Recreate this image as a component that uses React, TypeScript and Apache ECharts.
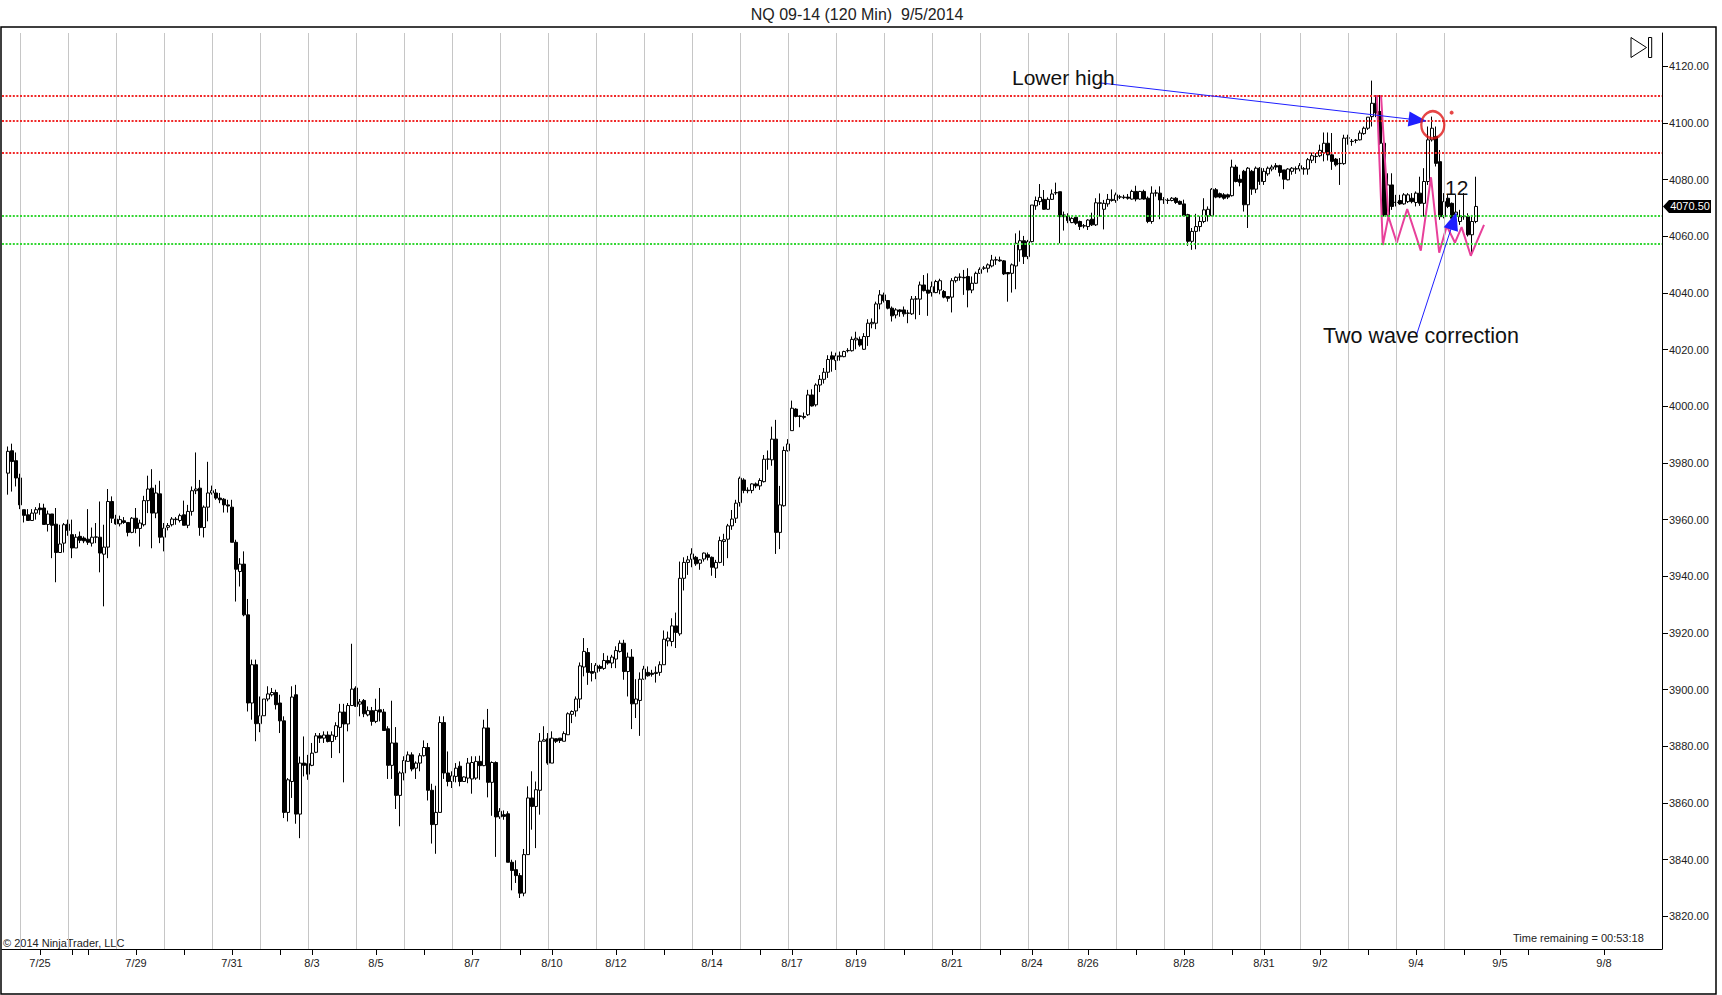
import React, { useEffect, useRef } from "react";
import * as echarts from "echarts";

// ---------- data (open, close, low, high) per 120-min bar ----------
const barsJul24to31: number[][] = [
  [3976.4, 3984.1, 3968.8, 3985.8], [3984.3, 3980.5, 3969.9, 3986.8], [3980.8, 3974.7, 3971.7, 3983.7], [3974.7, 3965.2, 3963.7, 3976.2],
  [3963.5, 3961.5, 3959.0, 3963.5], [3961.7, 3959.7, 3959.7, 3963.7], [3959.7, 3962.3, 3959.7, 3963.7], [3962.3, 3963.5, 3960.0, 3964.4],
  [3964.1, 3963.5, 3961.7, 3965.8], [3964.1, 3958.3, 3958.3, 3965.6], [3958.3, 3962.0, 3955.8, 3963.2], [3962.0, 3958.0, 3946.4, 3962.0],
  [3958.4, 3948.4, 3937.9, 3964.1], [3948.4, 3951.4, 3948.4, 3958.2], [3951.7, 3958.2, 3948.4, 3958.8], [3958.4, 3956.2, 3954.3, 3960.0],
  [3954.7, 3950.0, 3946.4, 3960.0], [3950.0, 3953.8, 3950.0, 3954.9], [3954.1, 3952.7, 3951.7, 3955.8], [3953.5, 3952.5, 3951.7, 3954.1],
  [3953.1, 3952.0, 3951.1, 3963.7], [3951.7, 3953.8, 3950.5, 3957.2], [3953.8, 3953.9, 3951.7, 3958.8], [3953.8, 3948.2, 3941.4, 3966.4],
  [3947.8, 3950.3, 3929.4, 3958.2], [3950.3, 3966.4, 3946.4, 3970.8], [3966.4, 3960.5, 3958.8, 3968.2], [3960.2, 3958.5, 3958.2, 3961.7],
  [3958.5, 3960.0, 3957.6, 3961.4], [3959.6, 3959.0, 3958.5, 3960.9], [3959.0, 3955.5, 3954.1, 3959.0], [3955.5, 3960.5, 3955.2, 3960.9],
  [3960.5, 3956.9, 3955.2, 3964.1], [3956.9, 3958.8, 3950.5, 3960.0], [3958.2, 3966.7, 3957.6, 3968.4], [3966.7, 3970.8, 3962.3, 3975.5],
  [3971.1, 3962.3, 3949.9, 3977.8], [3962.3, 3969.4, 3960.5, 3972.3], [3969.1, 3953.8, 3951.7, 3973.7], [3953.8, 3957.0, 3948.8, 3958.8],
  [3957.3, 3957.9, 3956.2, 3958.8], [3958.2, 3960.2, 3957.6, 3960.9], [3960.0, 3960.2, 3958.2, 3960.9], [3959.7, 3961.4, 3959.0, 3962.1],
  [3961.7, 3958.0, 3958.0, 3966.7], [3958.0, 3962.9, 3957.0, 3965.2], [3962.9, 3970.2, 3961.4, 3971.7], [3970.2, 3970.8, 3969.0, 3983.7],
  [3971.1, 3957.2, 3954.3, 3974.0], [3957.2, 3964.4, 3953.7, 3965.0], [3964.4, 3969.4, 3959.4, 3980.4], [3969.4, 3970.2, 3968.8, 3972.0],
  [3969.4, 3967.6, 3967.0, 3970.8], [3967.6, 3967.0, 3965.8, 3969.4], [3967.2, 3965.2, 3962.5, 3967.6], [3965.2, 3964.8, 3962.5, 3967.0],
  [3964.4, 3952.0, 3952.0, 3967.0], [3952.0, 3942.5, 3931.1, 3952.9], [3941.7, 3944.3, 3936.4, 3946.4], [3944.3, 3926.4, 3925.9, 3948.8],
  [3926.4, 3895.3, 3892.3, 3932.0], [3895.3, 3908.8, 3889.4, 3910.6], [3908.8, 3888.0, 3881.8, 3910.6], [3888.0, 3890.8, 3885.0, 3897.6],
  [3890.8, 3896.7, 3890.8, 3896.7], [3896.7, 3898.5, 3895.9, 3901.2], [3898.2, 3899.0, 3897.6, 3900.6], [3899.0, 3894.7, 3893.0, 3900.0],
  [3895.3, 3889.0, 3884.7, 3898.2], [3889.0, 3856.7, 3854.7, 3890.6], [3856.7, 3868.2, 3853.5, 3868.8],
];
const barsAug1to8: number[][] = [
  [3867.6, 3897.4, 3861.8, 3901.2], [3898.2, 3856.1, 3852.7, 3901.7], [3856.1, 3874.1, 3847.6, 3876.4], [3874.1, 3873.3, 3869.4, 3883.5],
  [3873.9, 3870.2, 3868.2, 3877.0], [3873.3, 3877.6, 3873.0, 3881.2], [3877.9, 3883.7, 3877.6, 3884.7], [3883.7, 3882.9, 3881.2, 3884.7],
  [3882.9, 3884.0, 3881.2, 3885.3], [3884.0, 3881.7, 3881.4, 3885.3], [3881.7, 3884.0, 3875.9, 3885.3], [3883.5, 3887.3, 3882.3, 3888.5],
  [3886.7, 3892.1, 3877.6, 3895.0], [3892.1, 3887.9, 3867.3, 3895.0], [3887.9, 3894.4, 3885.3, 3895.3], [3894.4, 3900.2, 3894.4, 3916.2],
  [3900.6, 3894.1, 3893.9, 3901.2], [3894.9, 3895.7, 3890.6, 3896.7], [3896.2, 3891.5, 3890.3, 3896.7], [3891.1, 3892.6, 3890.6, 3894.1],
  [3892.6, 3888.8, 3887.3, 3893.9], [3888.8, 3892.7, 3888.2, 3896.8], [3892.9, 3892.1, 3888.8, 3900.6], [3892.1, 3885.6, 3885.6, 3893.2],
  [3886.2, 3873.3, 3868.5, 3887.1], [3873.3, 3881.2, 3868.5, 3896.1], [3881.2, 3862.7, 3857.9, 3886.8], [3862.7, 3870.6, 3851.8, 3871.2],
  [3870.6, 3875.0, 3868.0, 3876.5], [3874.7, 3877.0, 3874.7, 3878.2], [3877.0, 3872.0, 3871.2, 3877.9], [3872.3, 3874.1, 3868.5, 3874.7],
  [3874.1, 3876.7, 3871.2, 3877.6], [3876.7, 3879.6, 3876.4, 3882.1], [3879.6, 3864.5, 3860.9, 3881.2], [3864.5, 3852.4, 3845.7, 3866.8],
  [3852.4, 3856.7, 3842.1, 3866.1], [3856.7, 3888.4, 3856.7, 3890.6], [3888.4, 3870.6, 3868.5, 3890.6], [3870.6, 3867.6, 3865.9, 3878.2],
  [3867.6, 3869.6, 3865.3, 3871.2], [3869.4, 3872.3, 3867.3, 3874.1], [3873.0, 3867.6, 3865.9, 3874.7], [3867.6, 3869.2, 3867.6, 3869.4],
  [3868.8, 3874.1, 3867.0, 3875.9], [3868.5, 3874.3, 3863.3, 3876.5], [3868.8, 3874.7, 3868.2, 3876.5], [3874.7, 3873.2, 3868.2, 3876.7],
  [3873.2, 3886.5, 3873.0, 3889.4], [3886.5, 3867.3, 3862.0, 3893.2], [3867.3, 3874.3, 3855.5, 3874.7], [3874.3, 3855.1, 3841.0, 3874.7],
  [3855.1, 3857.1, 3854.4, 3858.2], [3855.9, 3855.3, 3854.1, 3857.4], [3856.2, 3839.1, 3839.1, 3857.1], [3839.1, 3836.2, 3829.2, 3840.0],
  [3836.5, 3834.4, 3831.8, 3839.8], [3834.4, 3828.2, 3826.5, 3835.3], [3828.2, 3841.8, 3827.1, 3843.8], [3841.8, 3861.8, 3841.8, 3865.9],
  [3861.8, 3858.8, 3850.6, 3871.2], [3858.8, 3864.7, 3844.1, 3867.6], [3864.5, 3881.8, 3855.9, 3884.7], [3881.8, 3882.3, 3881.8, 3887.1],
  [3882.7, 3874.1, 3873.5, 3884.7], [3874.1, 3882.9, 3874.1, 3885.3], [3882.7, 3881.8, 3881.2, 3882.7], [3882.9, 3882.1, 3881.2, 3882.9],
  [3881.8, 3884.5, 3881.8, 3885.3], [3884.1, 3891.5, 3884.1, 3892.0],
];
const barsAug11to19: number[][] = [
  [3891.3, 3892.3, 3888.2, 3892.7], [3892.5, 3896.7, 3890.5, 3897.6], [3896.7, 3908.4, 3893.5, 3909.6], [3908.0, 3913.5, 3904.7, 3918.2],
  [3913.1, 3906.1, 3901.7, 3914.7], [3906.4, 3905.8, 3902.9, 3909.4], [3906.1, 3908.6, 3903.7, 3909.4], [3908.2, 3907.5, 3906.4, 3908.8],
  [3907.5, 3910.3, 3907.0, 3912.9], [3910.3, 3909.4, 3908.8, 3912.0], [3909.4, 3911.5, 3907.6, 3912.3], [3910.8, 3913.8, 3907.6, 3915.3],
  [3913.5, 3916.4, 3913.1, 3917.4], [3916.4, 3906.4, 3903.5, 3917.6], [3906.4, 3911.5, 3897.6, 3913.1], [3911.5, 3895.0, 3886.1, 3914.3],
  [3895.0, 3896.7, 3890.0, 3903.7], [3896.2, 3903.7, 3883.7, 3906.1], [3903.7, 3907.3, 3903.5, 3908.4], [3906.1, 3904.9, 3904.6, 3908.2],
  [3905.8, 3905.4, 3904.6, 3907.0], [3905.7, 3906.1, 3902.5, 3908.2], [3906.1, 3908.8, 3904.9, 3910.0], [3908.8, 3917.8, 3908.8, 3920.9],
  [3917.2, 3918.2, 3915.3, 3920.5], [3917.0, 3922.5, 3915.3, 3925.2], [3922.5, 3920.2, 3914.7, 3927.2], [3919.7, 3939.3, 3919.0, 3945.2],
  [3939.3, 3944.9, 3935.0, 3946.7], [3944.9, 3945.8, 3940.5, 3947.2], [3946.0, 3947.9, 3943.2, 3949.9], [3946.7, 3944.4, 3943.7, 3947.2],
  [3944.6, 3945.8, 3942.3, 3946.0], [3946.1, 3948.2, 3945.2, 3948.4], [3947.6, 3946.7, 3945.6, 3948.4], [3946.7, 3943.2, 3940.2, 3947.0],
  [3942.9, 3944.9, 3939.4, 3945.8], [3944.9, 3952.6, 3944.6, 3954.0], [3952.3, 3952.9, 3943.7, 3955.0], [3953.1, 3957.8, 3946.4, 3958.5],
  [3957.8, 3960.2, 3956.4, 3963.4], [3960.5, 3965.8, 3958.8, 3967.0], [3966.0, 3974.6, 3964.6, 3975.2], [3974.0, 3970.3, 3969.3, 3974.6],
  [3970.4, 3970.2, 3969.3, 3971.4], [3970.3, 3972.6, 3969.3, 3972.8], [3972.6, 3971.9, 3971.1, 3973.1], [3971.9, 3973.8, 3970.5, 3974.6],
  [3973.4, 3981.3, 3973.1, 3982.8], [3981.3, 3981.4, 3977.6, 3984.4], [3981.1, 3988.4, 3979.0, 3992.8], [3988.4, 3955.5, 3947.9, 3995.2],
  [3955.5, 3965.2, 3949.6, 3971.9], [3964.9, 3984.4, 3964.6, 3985.8], [3984.3, 3986.7, 3984.0, 3988.4], [3991.4, 3999.3, 3991.4, 4002.0],
  [3999.0, 3996.4, 3996.1, 3999.3], [3996.6, 3996.4, 3992.6, 3996.8], [3996.4, 3996.1, 3995.4, 3997.8], [3997.0, 4004.0, 3996.6, 4005.8],
  [4004.0, 4000.1, 3999.9, 4006.0], [4000.5, 4007.5, 3999.9, 4008.1], [4007.5, 4009.5, 4005.0, 4011.0], [4009.5, 4012.0, 4008.0, 4013.5],
  [4012.0, 4016.5, 4010.0, 4018.0],
];
const barsAug20to28: number[][] = [
  [4017.8, 4016.6, 4012.2, 4019.3], [4016.1, 4017.8, 4012.8, 4018.9], [4017.5, 4017.8, 4016.1, 4019.3], [4017.5, 4019.3, 4017.3, 4019.6],
  [4019.6, 4019.7, 4019.0, 4020.5], [4019.6, 4023.6, 4019.3, 4024.6], [4023.4, 4024.0, 4020.1, 4026.3], [4023.6, 4021.6, 4021.0, 4024.6],
  [4020.1, 4024.6, 4019.9, 4025.8], [4024.6, 4029.3, 4021.3, 4030.7], [4029.1, 4029.6, 4027.5, 4031.0], [4029.3, 4036.1, 4027.2, 4036.9],
  [4036.1, 4039.3, 4034.2, 4041.0], [4039.3, 4037.3, 4036.6, 4040.1], [4037.3, 4034.6, 4034.2, 4037.5], [4034.6, 4031.9, 4029.9, 4035.2],
  [4032.2, 4034.0, 4031.0, 4034.6], [4034.0, 4033.4, 4031.6, 4034.2], [4034.0, 4032.6, 4031.6, 4035.2], [4032.8, 4032.9, 4029.3, 4034.0],
  [4032.6, 4037.8, 4032.2, 4038.9], [4037.8, 4037.9, 4030.7, 4038.9], [4037.8, 4042.8, 4032.2, 4044.0], [4042.8, 4040.8, 4040.5, 4046.3],
  [4041.0, 4039.9, 4031.9, 4046.9], [4040.1, 4042.2, 4038.7, 4044.0], [4040.1, 4044.0, 4039.9, 4044.6], [4041.0, 4044.3, 4039.5, 4045.0],
  [4040.5, 4038.5, 4038.1, 4041.0], [4038.7, 4038.1, 4036.9, 4038.9], [4038.5, 4044.3, 4033.1, 4045.2], [4044.3, 4045.5, 4043.6, 4045.8],
  [4045.5, 4045.6, 4044.3, 4046.9], [4045.5, 4045.3, 4039.3, 4048.1], [4045.8, 4041.0, 4034.9, 4048.7], [4041.0, 4043.4, 4039.9, 4045.8],
  [4043.4, 4046.9, 4043.2, 4047.5], [4046.9, 4048.3, 4046.7, 4049.0], [4048.7, 4048.8, 4048.1, 4049.5], [4048.7, 4049.9, 4047.2, 4050.4],
  [4049.5, 4051.6, 4049.0, 4053.4], [4051.6, 4051.7, 4049.9, 4052.8], [4051.6, 4051.3, 4051.0, 4052.8], [4051.3, 4046.7, 4046.3, 4051.6],
  [4047.2, 4046.7, 4036.9, 4047.2], [4046.9, 4049.9, 4040.1, 4050.4], [4049.5, 4057.5, 4041.3, 4061.0], [4055.2, 4058.4, 4051.0, 4062.0],
  [4058.4, 4052.8, 4050.2, 4060.1], [4052.8, 4058.1, 4051.9, 4058.7], [4058.1, 4071.0, 4057.8, 4071.0], [4070.7, 4072.6, 4069.3, 4074.0],
  [4072.2, 4073.7, 4071.0, 4078.4], [4073.0, 4069.5, 4069.3, 4076.3], [4069.5, 4073.0, 4069.3, 4073.7], [4073.0, 4074.9, 4072.8, 4076.5],
  [4075.3, 4075.4, 4074.6, 4078.9], [4075.7, 4066.9, 4057.5, 4075.7], [4067.5, 4066.9, 4062.0, 4068.7], [4067.1, 4065.5, 4064.6, 4068.1],
  [4064.8, 4066.3, 4064.6, 4066.7], [4066.7, 4064.6, 4064.0, 4067.5], [4065.2, 4063.4, 4062.2, 4065.5], [4063.6, 4063.7, 4062.8, 4064.3],
  [4063.4, 4065.7, 4062.2, 4066.0], [4066.0, 4064.0, 4063.6, 4068.3], [4064.0, 4071.8, 4063.6, 4073.4], [4071.6, 4071.8, 4066.9, 4075.1],
  [4069.5, 4071.6, 4062.4, 4072.8], [4071.4, 4073.0, 4070.4, 4074.9], [4072.6, 4073.0, 4072.2, 4076.5], [4072.6, 4074.6, 4071.8, 4075.4],
];
const barsAug29toSep5: number[][] = [
  [4073.8, 4073.9, 4073.1, 4074.6], [4073.6, 4073.8, 4073.1, 4074.6], [4073.8, 4073.4, 4072.9, 4074.9], [4073.1, 4075.8, 4072.9, 4076.4],
  [4075.8, 4073.1, 4072.3, 4077.8], [4073.1, 4075.8, 4072.9, 4076.0], [4075.8, 4073.1, 4072.9, 4076.4], [4073.4, 4065.2, 4064.6, 4074.0],
  [4065.2, 4075.2, 4064.4, 4077.6], [4075.2, 4075.3, 4074.0, 4076.4], [4075.2, 4072.8, 4066.0, 4077.6], [4072.8, 4072.9, 4071.4, 4073.8],
  [4072.6, 4072.7, 4071.4, 4073.4], [4072.6, 4073.4, 4072.3, 4073.8], [4073.4, 4071.9, 4071.4, 4073.8], [4072.3, 4071.3, 4071.1, 4072.6],
  [4071.4, 4067.2, 4067.2, 4072.9], [4067.6, 4058.2, 4056.6, 4067.9], [4058.2, 4061.7, 4055.2, 4062.9], [4061.7, 4063.4, 4055.4, 4067.9],
  [4063.4, 4065.2, 4061.7, 4067.0], [4065.2, 4069.3, 4064.6, 4073.4], [4067.2, 4069.5, 4065.2, 4070.5], [4067.2, 4076.6, 4067.2, 4077.0],
  [4076.4, 4073.8, 4073.4, 4077.0], [4075.0, 4073.8, 4073.4, 4075.4], [4074.6, 4073.4, 4072.9, 4075.2], [4074.6, 4073.8, 4073.1, 4075.0],
  [4074.3, 4084.4, 4074.0, 4087.0], [4084.4, 4079.3, 4079.0, 4085.2], [4080.1, 4079.0, 4077.6, 4081.7], [4082.9, 4071.1, 4068.7, 4083.4],
  [4071.1, 4084.0, 4062.9, 4084.4], [4082.9, 4076.6, 4074.6, 4083.4], [4076.6, 4084.0, 4075.2, 4084.6], [4084.0, 4079.3, 4078.1, 4084.4],
  [4079.3, 4082.9, 4078.1, 4084.0], [4082.0, 4084.0, 4081.3, 4084.6], [4083.7, 4084.4, 4082.9, 4085.2], [4084.9, 4084.4, 4083.4, 4085.8],
  [4084.9, 4082.5, 4081.1, 4085.2], [4083.4, 4080.1, 4076.6, 4083.4], [4079.9, 4083.7, 4079.7, 4084.0], [4082.9, 4084.0, 4081.7, 4084.4],
  [4083.8, 4083.7, 4082.0, 4084.6], [4083.7, 4084.9, 4082.9, 4085.8], [4083.7, 4083.8, 4081.7, 4084.4], [4083.7, 4087.0, 4081.7, 4087.6],
  [4086.8, 4088.4, 4085.8, 4089.5], [4088.1, 4088.2, 4085.8, 4089.3], [4088.4, 4090.3, 4087.9, 4092.3], [4089.5, 4092.8, 4086.4, 4096.6],
  [4092.8, 4088.7, 4086.7, 4096.6], [4088.7, 4086.4, 4083.4, 4096.4], [4087.2, 4085.2, 4084.6, 4087.6], [4085.6, 4085.7, 4078.1, 4087.6],
  [4085.6, 4094.6, 4085.2, 4095.8], [4094.6, 4094.7, 4092.3, 4095.8], [4093.5, 4093.4, 4091.9, 4094.3], [4093.8, 4093.9, 4092.8, 4094.3],
  [4094.0, 4096.4, 4093.8, 4097.3], [4096.2, 4098.1, 4095.8, 4098.7], [4098.1, 4102.0, 4097.5, 4102.0], [4102.2, 4106.9, 4098.7, 4114.9],
  [4106.9, 4103.5, 4102.0, 4109.8], [4104.0, 4092.8, 4092.2, 4109.8], [4092.8, 4067.5, 4066.9, 4096.9], [4067.5, 4078.1, 4066.9, 4082.2],
  [4078.1, 4070.5, 4069.3, 4082.2], [4072.0, 4071.9, 4070.5, 4074.6], [4072.6, 4071.4, 4071.1, 4074.6], [4071.4, 4074.6, 4071.1, 4075.2],
  [4072.2, 4074.6, 4071.7, 4075.2], [4073.4, 4072.2, 4071.6, 4075.2], [4071.9, 4075.2, 4070.5, 4075.8], [4075.2, 4071.6, 4070.7, 4081.0],
  [4071.6, 4079.3, 4066.9, 4084.0], [4079.3, 4094.0, 4078.1, 4098.7], [4094.0, 4098.1, 4093.4, 4102.2], [4095.2, 4085.7, 4084.6, 4098.7],
  [4086.3, 4066.9, 4065.8, 4090.4], [4066.9, 4072.2, 4066.3, 4075.2], [4073.4, 4070.5, 4069.9, 4074.6], [4071.6, 4066.3, 4066.0, 4071.9],
  [4067.5, 4068.5, 4063.4, 4074.6], [4065.2, 4066.9, 4064.0, 4069.3], [4067.0, 4066.9, 4065.8, 4075.2], [4066.9, 4060.5, 4059.9, 4068.1],
  [4060.5, 4065.2, 4053.4, 4067.5], [4065.2, 4070.5, 4064.6, 4081.0],
];

// axis / time slots
const SLOT_COUNT = 415;
const FIRST_BAR_SLOT = 1;
const dateLabels = ["7/25", "7/29", "7/31", "8/3", "8/5", "8/7", "8/10", "8/12", "8/14", "8/17", "8/19", "8/21", "8/24", "8/26", "8/28", "8/31", "9/2", "9/4", "9/5", "9/8"];
const dateLabelSlots = [9, 33, 57, 77, 93, 117, 137, 153, 177, 197, 213, 237, 257, 271, 295, 315, 329, 353, 374, 400];
const plainTickSlots = [17, 21, 45, 69, 105, 129, 165, 189, 225, 249, 283, 307, 341, 365, 381];
const gridLineSlots = [4, 16, 28, 40, 52, 64, 76, 88, 100, 112, 124, 136, 148, 160, 172, 184, 196, 208, 220, 232, 244, 256, 266, 278, 290, 302, 314, 324, 336, 348, 360];
const priceTicks = [3820, 3840, 3860, 3880, 3900, 3920, 3940, 3960, 3980, 4000, 4020, 4040, 4060, 4080, 4100, 4120];
const PRICE_MIN = 3808.5;
const PRICE_MAX = 4131.7;
const lastPrice = 4070.5;

// drawn levels & annotations (slot, price)
const redLevels = [4109.5, 4100.7, 4089.3];
const greenLevels = [4067.2, 4057.3];
const zigzagMain = [
  [343.2, 4109.8], [344.7, 4056.9], [346.1, 4066.9], [348.2, 4057.7], [350.8, 4069.6], [354.2, 4054.9], [356.75, 4080.8],
  [358.8, 4054.2], [360.7, 4063.6], [362.75, 4057.7], [364.4, 4063.2], [366.7, 4053.1], [370.0, 4064.0],
];
const zigzagExtra = [[344.25, 4109.8], [346.1, 4066.9]];
const arrowLowerHigh = [[274.0, 4114.1], [353.4, 4101.0]];
const arrowTwoWave = [[353.2, 4025.5], [362.4, 4065.4]];
const circleMark = [357.2, 4099.3];
const dotMark = [361.9, 4103.6];

const FONT = '"Liberation Sans", Arial, Helvetica, sans-serif';

export default function App() {
  const ref = useRef<HTMLDivElement>(null);

  useEffect(() => {
    document.body.style.margin = "0";
    const el = ref.current;
    if (!el) return;
    const chart = echarts.init(el, null, { renderer: "svg" });

    const allBars = [...barsJul24to31, ...barsAug1to8, ...barsAug11to19, ...barsAug20to28, ...barsAug29toSep5];
    const slots = Array.from({ length: SLOT_COUNT }, (_, i) => String(i));
    const labelMap = new Map<number, string>();
    dateLabelSlots.forEach((s, k) => labelMap.set(s, dateLabels[k]));
    const tickSet = new Set<number>([...dateLabelSlots, ...plainTickSlots]);
    const candleData = allBars.map((b, i) => [i + FIRST_BAR_SLOT, b[0], b[1], b[2], b[3]]);

    const baseGraphics: any[] = [
      { id: "frame", type: "rect", shape: { x: 1, y: 27, width: 1715, height: 967 }, style: { fill: "none", stroke: "#000", lineWidth: 1.5 }, silent: true },
      { id: "title", type: "text", x: 857, y: 14, style: { text: "NQ 09-14 (120 Min)  9/5/2014", font: `16px ${FONT}`, fill: "#222", align: "center", verticalAlign: "middle" } },
      { id: "copy", type: "text", x: 3, y: 943, style: { text: "© 2014 NinjaTrader, LLC", font: `11px ${FONT}`, fill: "#222", align: "left", verticalAlign: "middle" } },
      { id: "timerem", type: "text", x: 1513, y: 938, style: { text: "Time remaining = 00:53:18", font: `11px ${FONT}`, fill: "#222", align: "left", verticalAlign: "middle" } },
      { id: "lowerhigh", type: "text", x: 1012, y: 77, z: 10, style: { text: "Lower high", font: `21px ${FONT}`, fill: "#111", align: "left", verticalAlign: "middle" } },
      { id: "twowave", type: "text", x: 1323, y: 336, z: 10, style: { text: "Two wave correction", font: `21.5px ${FONT}`, fill: "#111", align: "left", verticalAlign: "middle" } },
      { id: "onetwo", type: "text", x: 1445, y: 187, z: 10, style: { text: "12", font: `21px ${FONT}`, fill: "#111", align: "left", verticalAlign: "middle" } },
      { id: "playtri", type: "polygon", shape: { points: [[1631, 37.5], [1646.5, 47.5], [1631, 57.5]] }, style: { fill: "#fff", stroke: "#000", lineWidth: 1 } },
      { id: "playbar", type: "rect", shape: { x: 1648.5, y: 37.5, width: 3.2, height: 20 }, style: { fill: "#fff", stroke: "#000", lineWidth: 1 } },
    ];

    const option: any = {
      animation: false,
      backgroundColor: "#ffffff",
      grid: { left: 2, right: 60, top: 33, bottom: 46, containLabel: false, outerBoundsMode: "none" },
      xAxis: [
        {
          type: "category",
          data: slots,
          boundaryGap: true,
          position: "bottom",
          axisLine: { show: true, onZero: false, lineStyle: { color: "#000", width: 1 } },
          axisTick: { show: true, alignWithLabel: true, interval: (i: number) => tickSet.has(i), length: 6, lineStyle: { color: "#000", width: 1 } },
          axisLabel: {
            show: true,
            interval: (i: number) => labelMap.has(i),
            formatter: (v: string) => labelMap.get(Number(v)) ?? "",
            color: "#222",
            fontSize: 11,
            fontFamily: FONT,
            margin: 8,
          },
          splitLine: { show: false },
        },
        { type: "value", min: -0.5, max: SLOT_COUNT - 0.5, show: false, axisLine: { onZero: false } },
      ],
      yAxis: {
        type: "value",
        position: "right",
        min: PRICE_MIN,
        max: PRICE_MAX,
        axisLine: { show: true, onZero: false, lineStyle: { color: "#000", width: 1 } },
        axisTick: { show: true, customValues: priceTicks, length: 6, lineStyle: { color: "#000" } },
        axisLabel: { show: true, customValues: priceTicks, formatter: (v: number) => v.toFixed(2), margin: 7, color: "#222", fontSize: 11, fontFamily: FONT },
        splitLine: { show: false },
      },
      series: [
        {
          name: "grid",
          type: "line",
          xAxisIndex: 1,
          data: [[0, 3900]],
          showSymbol: false,
          lineStyle: { opacity: 0 },
          z: 1,
          silent: true,
          markLine: {
            silent: true,
            symbol: "none",
            label: { show: false },
            lineStyle: { color: "#c6c6c6", width: 1, type: "solid" },
            data: gridLineSlots.map((s) => ({ xAxis: s })),
          },
        },
        {
          name: "levels",
          type: "line",
          xAxisIndex: 1,
          data: [[0, 3900]],
          showSymbol: false,
          lineStyle: { opacity: 0 },
          z: 2,
          silent: true,
          markLine: {
            silent: true,
            symbol: "none",
            label: { show: false },
            data: [
              ...redLevels.map((v) => ({ yAxis: v, lineStyle: { color: "#f02828", width: 2, type: [2, 1.6] } })),
              ...greenLevels.map((v) => ({ yAxis: v, lineStyle: { color: "#33d633", width: 2, type: [2, 1.6] } })),
            ],
          },
        },
        {
          name: "NQ",
          type: "candlestick",
          xAxisIndex: 0,
          yAxisIndex: 0,
          data: candleData,
          encode: { x: 0, y: [1, 2, 3, 4] },
          barWidth: 3,
          z: 3,
          itemStyle: {
            color: "#ffffff",
            color0: "#000000",
            borderColor: "#000000",
            borderColor0: "#000000",
            borderColorDoji: "#000000",
            borderWidth: 1,
          },
        },
        {
          name: "zigzag",
          type: "line",
          xAxisIndex: 1,
          data: zigzagMain,
          symbol: "none",
          lineStyle: { color: "#e8409a", width: 2 },
          z: 4,
        },
        {
          name: "zigzag2",
          type: "line",
          xAxisIndex: 1,
          data: zigzagExtra,
          symbol: "none",
          lineStyle: { color: "#e8409a", width: 2 },
          z: 4,
        },
        {
          name: "arrows",
          type: "line",
          xAxisIndex: 1,
          data: [[0, 3900]],
          showSymbol: false,
          lineStyle: { opacity: 0 },
          z: 6,
          markLine: {
            silent: true,
            symbol: ["none", "triangle"],
            symbolSize: [15, 18],
            label: { show: false },
            lineStyle: { color: "#1f1fff", width: 1, type: "solid" },
            data: [
              [{ coord: arrowLowerHigh[0] }, { coord: arrowLowerHigh[1] }],
              [{ coord: arrowTwoWave[0] }, { coord: arrowTwoWave[1] }],
            ],
          },
        },
        {
          name: "circle",
          type: "scatter",
          xAxisIndex: 1,
          data: [circleMark],
          symbol: "circle",
          symbolSize: [23, 27],
          itemStyle: { color: "rgba(0,0,0,0)", borderColor: "#e01818", borderWidth: 2.5 },
          z: 6,
        },
        {
          name: "dot",
          type: "scatter",
          xAxisIndex: 1,
          data: [dotMark],
          symbol: "circle",
          symbolSize: 4,
          itemStyle: { color: "#e01818" },
          z: 6,
        },
      ],
      graphic: { elements: baseGraphics },
    };

    chart.setOption(option);

    const py = chart.convertToPixel({ yAxisIndex: 0 }, lastPrice) as number;
    const marker: any[] = [
      { id: "lastbox", type: "polygon", z: 20, shape: { points: [[1663, py], [1669, py - 6.5], [1711, py - 6.5], [1711, py + 6.5], [1669, py + 6.5]] }, style: { fill: "#000" } },
      { id: "lasttext", type: "text", z: 21, x: 1690, y: py, style: { text: lastPrice.toFixed(2), font: `11px ${FONT}`, fill: "#fff", align: "center", verticalAlign: "middle" } },
    ];
    chart.setOption({ graphic: { elements: [...baseGraphics, ...marker] } });

    return () => {
      chart.dispose();
    };
  }, []);

  return <div ref={ref} style={{ position: "absolute", left: 0, top: 0, width: 1722, height: 995 }} />;
}
